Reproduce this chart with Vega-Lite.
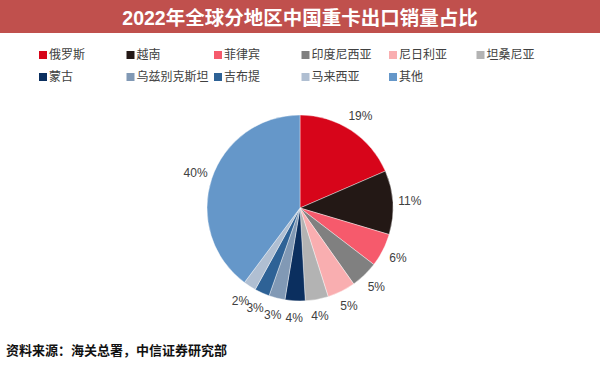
{
  "$schema": "https://vega.github.io/schema/vega-lite/v6.json",
  "padding": 0,
  "spacing": 55,
  "background": "white",
  "config": {"view": {"stroke": null}},
  "vconcat": [
    {
      "width": 600,
      "height": 33,
      "view": {"fill": "#c0504d", "stroke": null},
      "data": {"values": [{"t": "2022年全球分地区中国重卡出口销量占比"}]},
      "mark": {"type": "text", "font": "Liberation Sans, Noto Sans CJK SC", "fontSize": 19.5, "fontWeight": "bold", "color": "white", "baseline": "middle", "align": "center", "dy": 2},
      "encoding": {"text": {"field": "t", "type": "nominal"}}
    },
    {
      "width": 600,
      "height": 240,
      "title": {"text": "资料来源：海关总署，中信证券研究部", "orient": "bottom", "anchor": "start", "fontSize": 13, "fontWeight": "bold", "color": "#111111", "font": "Noto Sans CJK SC", "offset": 17, "dx": 6},
      "data": {"values": [
        {"region": "俄罗斯", "value": 18.5, "label": "19%", "idx": 1},
        {"region": "越南", "value": 11.1, "label": "11%", "idx": 2},
        {"region": "菲律宾", "value": 5.8, "label": "6%", "idx": 3},
        {"region": "印度尼西亚", "value": 4.8, "label": "5%", "idx": 4},
        {"region": "尼日利亚", "value": 4.9, "label": "5%", "idx": 5},
        {"region": "坦桑尼亚", "value": 4.0, "label": "4%", "idx": 6},
        {"region": "蒙古", "value": 3.5, "label": "4%", "idx": 7},
        {"region": "乌兹别克斯坦", "value": 2.8, "label": "3%", "idx": 8},
        {"region": "吉布提", "value": 2.6, "label": "3%", "idx": 9},
        {"region": "马来西亚", "value": 2.2, "label": "2%", "idx": 10},
        {"region": "其他", "value": 39.8, "label": "40%", "idx": 11}
      ]},
      "encoding": {
        "theta": {"field": "value", "type": "quantitative", "stack": true},
        "order": {"field": "idx", "type": "quantitative", "sort": "ascending"}
      },
      "layer": [
        {
          "mark": {"type": "arc", "outerRadius": 93, "stroke": "white", "strokeWidth": 0.4},
          "encoding": {
            "color": {
              "field": "region", "type": "nominal",
              "scale": {
                "domain": ["俄罗斯", "越南", "菲律宾", "印度尼西亚", "尼日利亚", "坦桑尼亚", "蒙古", "乌兹别克斯坦", "吉布提", "马来西亚", "其他"],
                "range": ["#d7051a", "#231815", "#f65a6c", "#808080", "#f9aeb0", "#b3b3b3", "#0b2f5f", "#8199b5", "#2e6296", "#b0bfd2", "#6597c9"]
              },
              "legend": {
                "title": null,
                "orient": "none",
                "legendX": 37,
                "legendY": 49,
                "direction": "horizontal",
                "columns": 6,
                "gridAlign": "all",
                "columnPadding": 2.5,
                "rowPadding": 10,
                "padding": 0,
                "symbolType": "square",
                "symbolSize": 64,
                "symbolStrokeWidth": 0,
                "labelOffset": 0,
                "labelFontSize": 12,
                "labelFont": "Noto Sans CJK SC",
                "labelColor": "#404040",
                "labelLimit": 200
              }
            }
          }
        },
        {
          "mark": {"type": "text", "radius": 110, "font": "Liberation Sans", "fontSize": 12, "color": "#404040"},
          "encoding": {"text": {"field": "label", "type": "nominal"}}
        }
      ]
    }
  ]
}
